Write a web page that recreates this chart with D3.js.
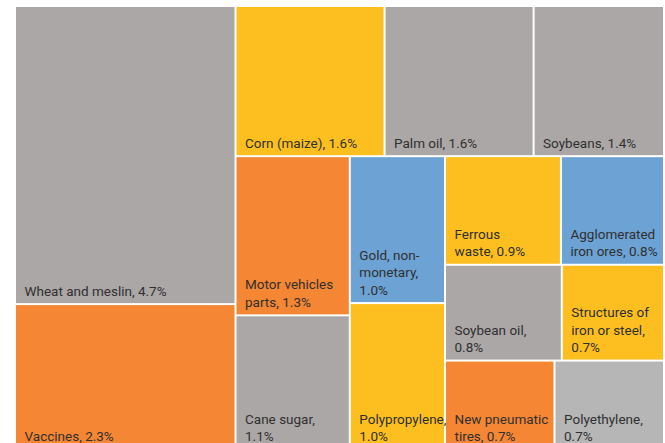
<!DOCTYPE html>
<html>
<head>
<meta charset="utf-8">
<script src="https://cdn.jsdelivr.net/npm/d3@7"></script>
<style>
  html, body { margin: 0; padding: 0; background: #ffffff; }
  svg { display: block; }
  .cell-label { font-family: Roboto, "Noto Sans", sans-serif; font-size: 13.5px; fill: #303030; }
</style>
</head>
<body>
<svg id="chart" width="665" height="443"></svg>
<script>
// Export products and their share (%)
const categories = [
  "Wheat and meslin", "Vaccines", "Corn (maize)", "Palm oil", "Soybeans",
  "Motor vehicles parts", "Cane sugar", "Gold, non-monetary", "Polypropylene",
  "Ferrous waste", "Agglomerated iron ores", "Soybean oil",
  "Structures of iron or steel", "New pneumatic tires", "Polyethylene"
];
const shares = [4.7, 2.3, 1.6, 1.6, 1.4, 1.3, 1.1, 1.0, 1.0, 0.9, 0.8, 0.8, 0.7, 0.7, 0.7];
const colorKeys = [
  "gray", "orange", "yellow", "gray", "gray",
  "orange", "gray", "blue", "yellow",
  "yellow", "blue", "gray",
  "yellow", "orange", "light"
];
// Words per label line
const wrapCounts = [
  [4], [2], [3], [3], [2],
  [2, 2], [2, 1], [2, 1, 1], [1, 1],
  [1, 2], [1, 3], [2, 1],
  [2, 3, 1], [2, 2], [1, 1]
];

const palette = d3.scaleOrdinal()
  .domain(["gray", "orange", "yellow", "blue", "light"])
  .range(["#aba7a6", "#f58634", "#fdbf20", "#6ca2d4", "#b6b6b6"]);

// Strips of the layout: how many cells each holds and which way it runs
const stripSizes = [2, 3, 2, 2, 2, 2, 2];
const stripDirs = ["col", "row", "col", "col", "row", "row", "row"];

function stripTile(parent, x0, y0, x1, y1) {
  const nodes = parent.children;
  let remaining = parent.value, i = 0;
  stripSizes.forEach((k, s) => {
    const strip = { children: nodes.slice(i, i + k) };
    strip.value = d3.sum(strip.children, d => d.value);
    if (stripDirs[s] === "row") {
      const yb = y0 + (y1 - y0) * strip.value / remaining;
      d3.treemapDice(strip, x0, y0, x1, yb);
      y0 = yb;
    } else {
      const xb = x0 + (x1 - x0) * strip.value / remaining;
      d3.treemapSlice(strip, x0, y0, xb, y1);
      x0 = xb;
    }
    remaining -= strip.value;
    i += k;
  });
}

const items = categories.map((name, i) => ({
  name, value: shares[i], key: colorKeys[i], wrap: wrapCounts[i]
}));

const root = d3.hierarchy({ children: items }).sum(d => d.value || 0);

const offsetX = 16, offsetY = 7, areaW = 647, areaH = 442;
d3.treemap()
  .size([areaW, areaH])
  .paddingInner(2)
  .tile(stripTile)(root);

const svg = d3.select("#chart");
const g = svg.append("g").attr("transform", `translate(${offsetX},${offsetY})`);

const cell = g.selectAll("g.cell")
  .data(root.leaves())
  .join("g")
  .attr("class", "cell")
  .attr("transform", d => `translate(${d.x0},${d.y0})`);

cell.append("rect")
  .attr("width", d => d.x1 - d.x0)
  .attr("height", d => d.y1 - d.y0)
  .attr("fill", d => palette(d.data.key));

function labelLines(d) {
  const text = `${d.data.name}, ${d.data.value.toFixed(1)}%`;
  const tokens = text.split(" ").flatMap(w => {
    const h = w.indexOf("-");
    return h > 0 && h < w.length - 1 ? [w.slice(0, h + 1), w.slice(h + 1)] : [w];
  });
  const lines = [];
  let idx = 0;
  d.data.wrap.forEach(n => {
    const part = tokens.slice(idx, idx + n);
    idx += n;
    lines.push(part.reduce((acc, t) => acc === "" ? t : (acc.endsWith("-") ? acc + t : acc + " " + t), ""));
  });
  return lines;
}

const lineHeight = 17.5;
cell.each(function (d) {
  const lines = labelLines(d);
  const h = d.y1 - d.y0;
  const t = d3.select(this).append("text").attr("class", "cell-label");
  lines.forEach((line, j) => {
    t.append("tspan")
      .attr("x", 8.5)
      .attr("y", h - 7.5 - (lines.length - 1 - j) * lineHeight)
      .text(line);
  });
});
</script>
</body>
</html>
